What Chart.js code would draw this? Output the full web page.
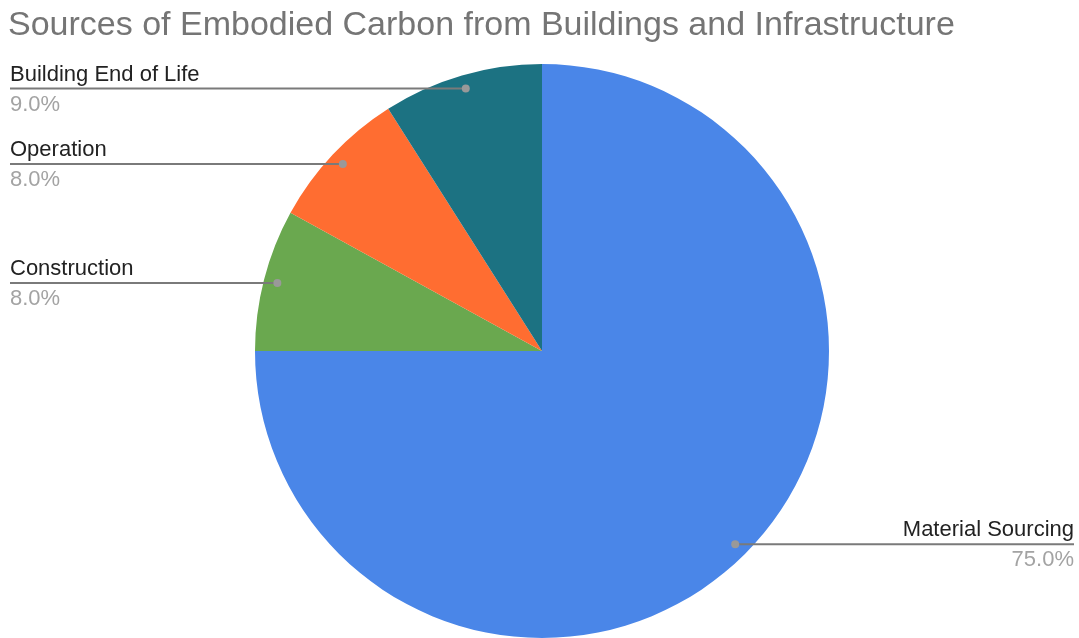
<!DOCTYPE html>
<html>
<head>
<meta charset="utf-8">
<script src="https://cdn.jsdelivr.net/npm/chart.js@4"></script>
<style>
  html, body { margin: 0; padding: 0; background: #fff; }
  #wrap { width: 1079px; height: 638px; position: relative; }
</style>
</head>
<body>
<div id="wrap"><canvas id="chart"></canvas></div>
<script>
const chartTitle = 'Sources of Embodied Carbon from Buildings and Infrastructure';
const categories = ['Material Sourcing', 'Construction', 'Operation', 'Building End of Life'];
const shares = [75.0, 8.0, 8.0, 9.0];
const sliceColors = ['#4A86E8', '#6AA84F', '#FF6D31', '#1C7282'];

// title + leader-line labels, drawn on top of the pie
const labelPlugin = {
  id: 'leaderLabels',
  afterDraw(chart) {
    const ctx = chart.ctx;
    ctx.save();
    ctx.font = '34px "Liberation Sans", Arial, sans-serif';
    ctx.fillStyle = '#757575';
    ctx.textAlign = 'left';
    ctx.textBaseline = 'alphabetic';
    ctx.fillText(chartTitle, 8, 35);

    const arcs = chart.getDatasetMeta(0).data;
    arcs.forEach((arc, i) => {
      const mid = (arc.startAngle + arc.endAngle) / 2;
      const r = arc.outerRadius * 0.952;
      const px = arc.x + Math.cos(mid) * r;
      const py = arc.y + Math.sin(mid) * r;
      const right = px > arc.x;
      const edge = right ? 1074 : 10;

      ctx.strokeStyle = '#7a7a7a';
      ctx.lineWidth = 2;
      ctx.beginPath();
      ctx.moveTo(px, py);
      ctx.lineTo(edge, py);
      ctx.stroke();
      ctx.fillStyle = '#999';
      ctx.beginPath();
      ctx.arc(px, py, 4, 0, Math.PI * 2);
      ctx.fill();

      ctx.textAlign = right ? 'right' : 'left';
      ctx.font = '22px "Liberation Sans", Arial, sans-serif';
      ctx.fillStyle = '#222';
      ctx.fillText(categories[i], edge, py - 8);
      ctx.fillStyle = '#a3a3a3';
      ctx.fillText(shares[i].toFixed(1) + '%', edge, py + 22);
    });
    ctx.restore();
  }
};

new Chart(document.getElementById('chart'), {
  type: 'pie',
  data: {
    labels: categories,
    datasets: [{
      data: shares,
      backgroundColor: sliceColors,
      borderWidth: 0
    }]
  },
  options: {
    responsive: true,
    maintainAspectRatio: false,
    animation: false,
    layout: { padding: { top: 64, bottom: 0, left: 255, right: 250 } },
    plugins: {
      legend: { display: false },
      tooltip: { enabled: false },
      title: { display: false }
    }
  },
  plugins: [labelPlugin]
});
</script>
</body>
</html>
